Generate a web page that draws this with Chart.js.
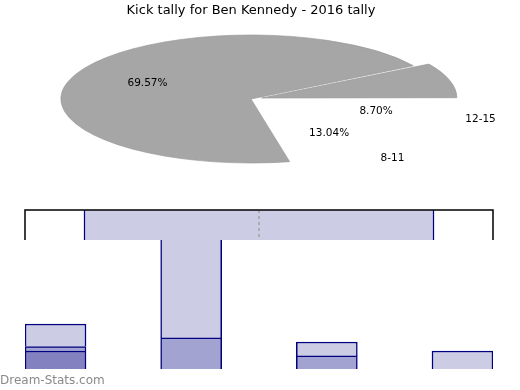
<!DOCTYPE html>
<html lang="en">
<head>
    <meta charset="UTF-8">
    <script src="https://cdn.jsdelivr.net/npm/chart.js@4.4.1/dist/chart.umd.min.js"></script>
    <title>Kick tally for Ben Kennedy</title>
    <style>
        body {margin: 0; width: 520px; height: 390px; overflow: hidden; background: #fff; position: relative; font-family: 'DejaVu Sans';}
        canvas {position: absolute; left: 0;}
        #pie {top: 0;}
        #strip {top: 205px;}
        #bars {top: 235px;}
        #mark {position: absolute; left: 0; top: 373px; font-size: 12px; color: #8a8a8a;}
    </style>
</head>
<body>
    <canvas id="pie" width="520" height="200"></canvas>
    <canvas id="strip" width="520" height="40"></canvas>
    <canvas id="bars" width="520" height="140"></canvas>
    <div id="mark">Dream-Stats.com</div>

    <script>
    // pie: kicks per game, grouped by range
    const pieLabels = ['12-15', '8-11', '0-3', '4-7'];
    const pieValues = [2, 3, 16, 2];
    const showPct = [true, true, true, false];
    const showName = [true, true, false, false];

    // stacked bars
    const barSlots = [1, 2, 3, 4];
    const darkVals = [2.0, null, null, null];
    const midVals = [0.5, 3.45, 1.45, null];
    const lightVals = [2.5, 12.55, 1.55, 2.0];

    // band across the top strip, dotted mark in the middle
    const bandRange = [12.6, 87.4];
    const bandMark = 50;

    const pieSquash = 64 / 190;
    const navy = '#000080';
    const light = '#ccccE4';
    const mid = '#a3a3d1';
    const dark = '#8381c0';

    const squash = {
        id: 'squash',
        beforeDatasetsDraw(chart) {
            const arc = chart.getDatasetMeta(0).data[0];
            const ctx = chart.ctx;
            ctx.save();
            ctx.translate(arc.x, arc.y);
            ctx.scale(1, pieSquash);
            ctx.translate(-arc.x, -arc.y);
        },
        afterDatasetsDraw(chart) {
            chart.ctx.restore();
        }
    };

    const pieText = {
        id: 'pieText',
        afterDraw(chart) {
            const ctx = chart.ctx;
            const total = pieValues.reduce((a, b) => a + b, 0);
            ctx.save();
            ctx.font = '10.5px "DejaVu Sans"';
            ctx.fillStyle = '#000';
            ctx.textAlign = 'center';
            ctx.textBaseline = 'middle';
            chart.getDatasetMeta(0).data.forEach((arc, i) => {
                const a = (arc.startAngle + arc.endAngle) / 2;
                const r = arc.outerRadius;
                const put = (txt, fx, fy, dx) => ctx.fillText(txt,
                    arc.x + Math.cos(a) * r * fx + dx,
                    arc.y + Math.sin(a) * r * fy * pieSquash + 1);
                if (showPct[i]) put((pieValues[i] / total * 100).toFixed(2) + '%', 0.64, 0.64, 8);
                if (showName[i]) put(pieLabels[i], 1.2, 1.12, 10);
            });
            ctx.restore();
        }
    };

    new Chart(document.getElementById('pie'), {
        type: 'pie',
        data: {
            labels: pieLabels,
            datasets: [{
                data: pieValues,
                backgroundColor: ['rgba(255,255,255,0)', 'rgba(255,255,255,0)', '#a6a6a6', '#a6a6a6'],
                borderColor: '#979797',
                borderWidth: [0, 0, 1, 1],
                offset: [0, 0, 0, 44],
                clip: false
            }]
        },
        options: {
            responsive: false,
            animation: false,
            radius: 190,
            rotation: 90,
            layout: {padding: {left: 0, right: 18, top: 0, bottom: 38}},
            plugins: {
                legend: {display: false},
                tooltip: {enabled: false},
                title: {
                    display: true,
                    text: 'Kick tally for Ben Kennedy - 2016 tally',
                    color: '#000',
                    font: {family: 'DejaVu Sans', size: 13, weight: 'normal'},
                    padding: {top: 3, bottom: 17.4}
                }
            }
        },
        plugins: [squash, pieText]
    });

    const frame = {
        id: 'frame',
        afterDraw(chart) {
            const {ctx, chartArea: a} = chart;
            ctx.save();
            ctx.strokeStyle = '#000';
            ctx.lineWidth = 1.5;
            ctx.beginPath();
            ctx.moveTo(a.left, a.bottom);
            ctx.lineTo(a.left, a.top);
            ctx.lineTo(a.right, a.top);
            ctx.lineTo(a.right, a.bottom);
            ctx.stroke();
            ctx.restore();
        }
    };

    new Chart(document.getElementById('strip'), {
        type: 'bar',
        data: {
            labels: ['band'],
            datasets: [{
                data: [bandRange],
                backgroundColor: light,
                borderColor: navy,
                borderWidth: {left: 1.5, right: 1.5, top: 0, bottom: 0},
                borderSkipped: false,
                barPercentage: 1,
                categoryPercentage: 1
            }]
        },
        options: {
            responsive: false,
            animation: false,
            indexAxis: 'y',
            layout: {padding: {left: 25, right: 27, top: 5, bottom: 5}},
            scales: {
                x: {
                    min: 0, max: 100,
                    afterBuildTicks: s => { s.ticks = [{value: bandMark}]; },
                    ticks: {display: false},
                    grid: {z: 1, drawTicks: false, lineWidth: 2, color: '#adadad'},
                    border: {display: false, dash: [3, 3]}
                },
                y: {display: false}
            },
            plugins: {legend: {display: false}, tooltip: {enabled: false}}
        },
        plugins: [frame]
    });

    const barSet = (vals, color) => ({
        data: barSlots.map((x, i) => ({x: x, y: vals[i]})),
        backgroundColor: color,
        borderColor: navy,
        borderWidth: 1.5,
        borderSkipped: 'start',
        barThickness: 61,
        clip: 0
    });

    new Chart(document.getElementById('bars'), {
        type: 'bar',
        data: {
            datasets: [barSet(darkVals, dark), barSet(midVals, mid), barSet(lightVals, light)]
        },
        options: {
            responsive: false,
            animation: false,
            layout: {padding: {left: 25, right: 27, top: 5, bottom: 6}},
            scales: {
                x: {type: 'linear', display: false, stacked: true, offset: false, min: 0.775, max: 4.225},
                y: {display: false, stacked: true, min: 0, max: 14.33}
            },
            plugins: {legend: {display: false}, tooltip: {enabled: false}}
        }
    });
    </script>
</body>
</html>
